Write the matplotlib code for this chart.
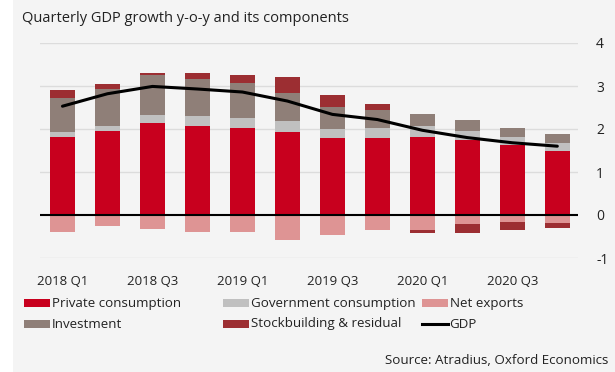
import matplotlib
matplotlib.use("Agg")
import matplotlib.pyplot as plt
from matplotlib.patches import Rectangle
from matplotlib.lines import Line2D
import numpy as np

plt.rcParams['font.family'] = ['Open Sans', 'DejaVu Sans']
plt.rcParams['axes.unicode_minus'] = False

quarters = ["2018 Q1", "2018 Q2", "2018 Q3", "2018 Q4",
            "2019 Q1", "2019 Q2", "2019 Q3", "2019 Q4",
            "2020 Q1", "2020 Q2", "2020 Q3", "2020 Q4"]

private_consumption = [1.81, 1.96, 2.14, 2.08, 2.03, 1.94, 1.79, 1.78, 1.82, 1.74, 1.62, 1.50]
government_consumption = [0.13, 0.12, 0.19, 0.23, 0.22, 0.24, 0.22, 0.24, 0.24, 0.21, 0.19, 0.17]
net_exports = [-0.39, -0.26, -0.33, -0.40, -0.40, -0.58, -0.47, -0.36, -0.34, -0.22, -0.16, -0.18]
investment = [0.78, 0.84, 0.92, 0.85, 0.81, 0.66, 0.50, 0.42, 0.30, 0.25, 0.22, 0.22]
stockbuilding = [0.19, 0.13, 0.06, 0.14, 0.20, 0.37, 0.28, 0.14, -0.07, -0.20, -0.18, -0.12]
gdp = [2.53, 2.82, 2.99, 2.93, 2.86, 2.65, 2.34, 2.22, 1.97, 1.80, 1.68, 1.60]

series = [
    ("Private consumption", private_consumption, "#C8001E"),
    ("Government consumption", government_consumption, "#C0C0C0"),
    ("Net exports", net_exports, "#DE9494"),
    ("Investment", investment, "#8F7F78"),
    ("Stockbuilding & residual", stockbuilding, "#9C2E32"),
]

W, H = 615, 372
fig = plt.figure(figsize=(W / 100, H / 100), dpi=100)
fig.patch.set_facecolor("white")
fig.patches.append(Rectangle((13 / W, 0), 1 - 13 / W, 1, transform=fig.transFigure,
                             facecolor="#F4F4F4", edgecolor="none", zorder=-10))

ax = fig.add_axes([40 / W, 1 - 258 / H, (578 - 40) / W, (258 - 43) / H])
ax.set_facecolor("none")
ax.set_zorder(2)

x = np.arange(len(quarters))
pos_bottom = np.zeros(len(x))
neg_bottom = np.zeros(len(x))
for name, vals, color in series:
    v = np.array(vals)
    bottom = np.where(v >= 0, pos_bottom, neg_bottom)
    ax.bar(x, v, width=0.56, bottom=bottom, color=color, zorder=3, linewidth=0)
    pos_bottom += np.where(v >= 0, v, 0)
    neg_bottom += np.where(v < 0, v, 0)

ax.plot(x, gdp, color="black", lw=2.2, zorder=5, solid_capstyle="round")
ax.axhline(0, color="black", lw=1.5, zorder=4)

ax.set_ylim(-1, 4)
ax.set_xlim(-0.5, 11.46)
ax.set_yticks([-1, 0, 1, 2, 3, 4])
for yv in [-1, 1, 2, 3, 4]:
    ax.axhline(yv, color="#DCDCDC", lw=1.0, zorder=1)
ax.yaxis.tick_right()
ax.tick_params(axis="y", length=0, pad=13, labelsize=10, colors="#222222")
ax.set_xticks(x[::2])
ax.set_xticklabels(quarters[::2])
ax.tick_params(axis="x", length=0, pad=12, labelsize=9.5, colors="#222222")
for s in ax.spines.values():
    s.set_visible(False)

fig.text(22 / W, 1 - 19 / H, "Quarterly GDP growth y-o-y and its components",
         fontsize=10.5, color="#222222", va="center", ha="left")

# legend, drawn by hand in figure pixels
def legend_patch(x0, yc, color):
    fig.patches.append(Rectangle((x0 / W, 1 - (yc + 4) / H), 26 / W, 8 / H,
                                 transform=fig.transFigure, facecolor=color,
                                 edgecolor="none", zorder=2))

def legend_text(x0, yc, s):
    fig.text(x0 / W, 1 - yc / H, s, fontsize=9.6, color="#222222",
             va="center", ha="left")

layout = {
    "Private consumption": (24, 303),
    "Government consumption": (223, 303),
    "Net exports": (422, 303),
    "Investment": (24, 324),
    "Stockbuilding & residual": (223, 324),
}
for name, vals, color in series:
    x0, yc = layout[name]
    legend_patch(x0, yc, color)
    legend_text(x0 + 28, yc, name)

fig.lines.append(Line2D([422 / W, 448 / W], [1 - 324 / H, 1 - 324 / H],
                        transform=fig.transFigure, color="black", lw=2.2))
legend_text(449, 324, "GDP")

fig.text(608 / W, 1 - 361 / H, "Source: Atradius, Oxford Economics",
         fontsize=9.6, color="#222222", va="center", ha="right")

fig.savefig("out.png", dpi=100, facecolor=fig.get_facecolor())
